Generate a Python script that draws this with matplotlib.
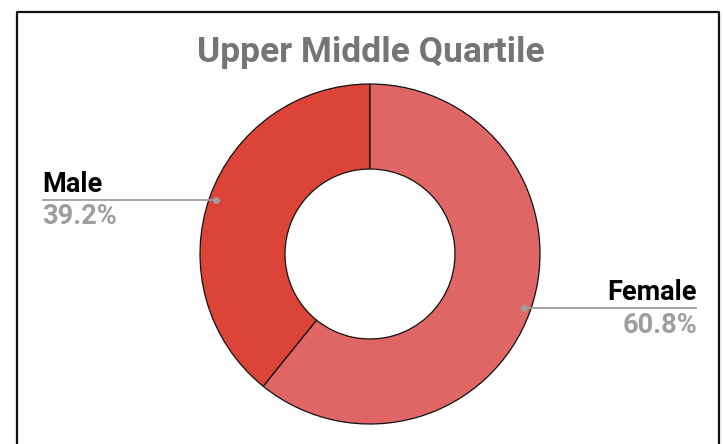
import numpy as np
import matplotlib
matplotlib.use("Agg")
import matplotlib.pyplot as plt
from matplotlib.lines import Line2D

# ---- data ----
title = "Upper Middle Quartile"
categories = ["Male", "Female"]
values = [39.2, 60.8]
value_labels = ["39.2%", "60.8%"]
colors = ["#DB4437", "#E06666"]

W, H = 723, 444
fig = plt.figure(figsize=(W / 100, H / 100), dpi=100)
ax = fig.add_axes([0, 0, 1, 1])

cx, cy, R = 370, H - 254, 170
wedges, _ = ax.pie(values, colors=colors, startangle=90, counterclock=True,
                   center=(cx, cy), radius=R, frame=True,
                   wedgeprops=dict(width=R * 0.5, edgecolor="#111111", linewidth=0.9))
ax.set_xlim(0, W)
ax.set_ylim(0, H)
ax.set_aspect("auto")
ax.axis("off")

font = "Roboto"
ax.text(cx + 1, H - 62, title, ha="center", va="baseline", fontsize=25.5,
        fontweight="bold", color="#757575", family=font)

label_x = {"Male": 42, "Female": 697}
for w, cat, vl in zip(wedges, categories, value_labels):
    mid = np.deg2rad((w.theta1 + w.theta2) / 2)
    dx, dy = cx + 0.96 * R * np.cos(mid), cy + 0.96 * R * np.sin(mid)
    lx = label_x[cat]
    ha = "left" if lx < cx else "right"
    ax.plot([lx, dx], [dy, dy], color="#9e9e9e", lw=1.3, solid_capstyle="butt")
    ax.plot([dx], [dy], "o", color="#9e9e9e", ms=4)
    ax.text(lx, dy + 8, cat, ha=ha, va="baseline", fontsize=19.5,
            fontweight="bold", color="#000000", family=font)
    ax.text(lx, dy - 24.5, vl, ha=ha, va="baseline", fontsize=19.6,
            fontweight="bold", color="#9e9e9e", family=font)

# outer frame (top, left, right)
fx0, fx1, fy = 17 / W, 719 / W, 1 - 12 / H
fig.add_artist(Line2D([fx0, fx0, fx1, fx1], [0, fy, fy, 0],
                      transform=fig.transFigure, color="#111111", lw=1.6))

fig.savefig("out.png", dpi=100)
